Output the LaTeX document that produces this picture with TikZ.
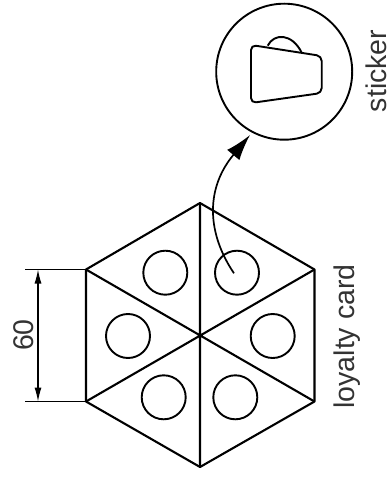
\documentclass[tikz,border=0pt]{standalone}
\usepackage{fontspec}
\setmainfont{Liberation Sans}
\usetikzlibrary{arrows.meta}
\tikzset{
  heavy/.style={line width=2.1pt,line join=round},
  hole/.style={circle,draw,line width=1.9pt,minimum size=44pt,inner sep=0pt},
  bigc/.style={circle,draw,line width=1.9pt,minimum size=136pt,inner sep=0pt},
  dimline/.style={line width=1.1pt},
  labeltext/.style={font=\fontsize{28.5}{32}\selectfont,text=black!80,rotate=90,inner sep=0pt}
}
\begin{document}
\begin{tikzpicture}[x=1pt,y=-1pt]
\useasboundingbox (0,0) rectangle (388,478);
\coordinate (T) at (200,203);
\coordinate (B) at (200,467);
\coordinate (UL) at (86,269.5);
\coordinate (LL) at (86,401.5);
\coordinate (UR) at (314.5,269.5);
\coordinate (LR) at (314.5,401.5);
\coordinate (C) at (200,335.5);
\draw[heavy] (T) -- (UR) -- (LR) -- (B) -- (LL) -- (UL) -- cycle;
\draw[heavy] (T) -- (B) (UL) -- (LR) (LL) -- (UR);
\node[hole] (h1) at (165.3,272.7) {};
\node[hole] (h2) at (237,272.7) {};
\node[hole] (h3) at (128,336) {};
\node[hole] (h4) at (272.7,336) {};
\node[hole] (h5) at (163.7,397.3) {};
\node[hole] (h6) at (235.3,397.3) {};
\node[bigc] (big) at (284.2,71.7) {};
\draw[line width=1.9pt,line join=round,rounded corners=5pt] (251,45) -- (321.7,56) -- (321.7,93) -- (251,103) -- cycle;
\draw[line width=1.9pt] (267.7,45.7) .. controls (274,33) and (292,33) .. (301.7,52.7);
\coordinate (start) at (234,273.3);
\coordinate (tip) at (250,135);
\draw[line width=1.7pt,-{Latex[length=26pt,width=16pt]}] (start) .. controls (208,235) and (204,190) .. (tip);
\coordinate (e1) at (25,269.5);
\coordinate (e2) at (25,401.5);
\draw[dimline] (e1) -- (UL) (e2) -- (LL);
\coordinate (d1) at (38,269.5);
\coordinate (d2) at (38,401.5);
\draw[dimline,{Latex[length=14pt,width=7pt]}-{Latex[length=14pt,width=7pt]}] (d1) -- (d2);
\node[labeltext] (n60) at (24,335) {60};
\node[labeltext] (card) at (346.7,336.5) {loyalty card};
\node[labeltext] (st) at (376,71) {sticker};
\end{tikzpicture}
\end{document}
